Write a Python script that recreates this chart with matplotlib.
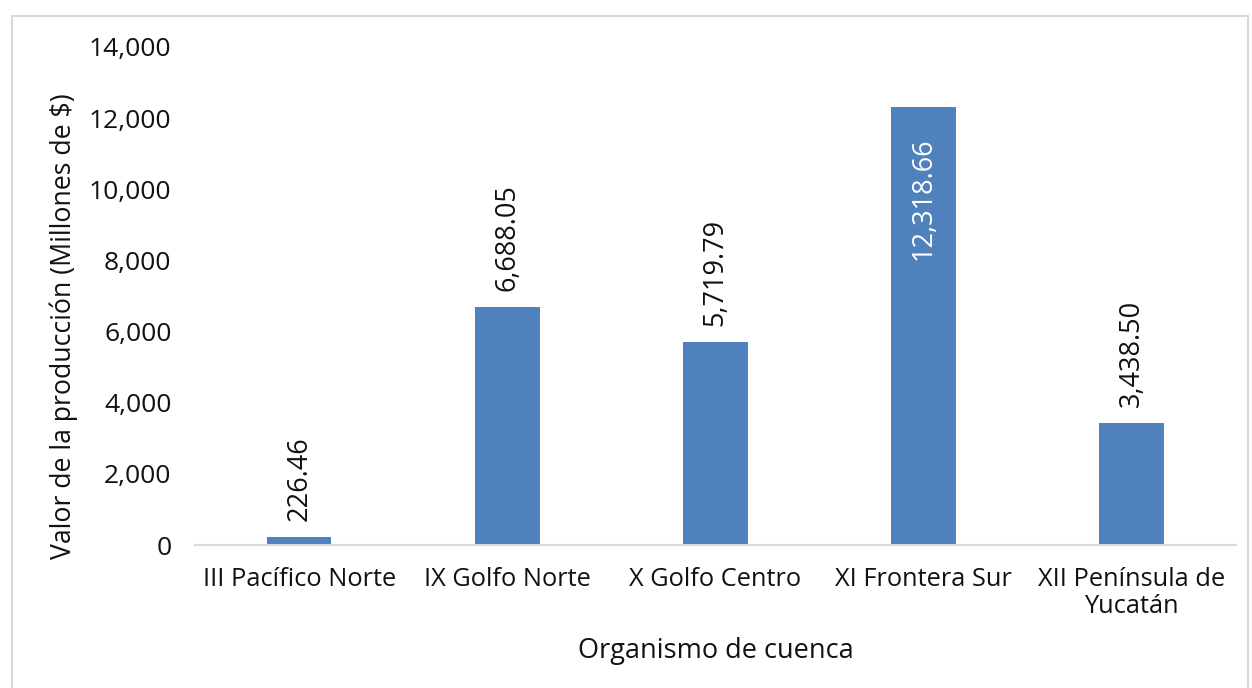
import matplotlib.pyplot as plt
from matplotlib.patches import Rectangle

categorias = ['III Pacífico Norte', 'IX Golfo Norte', 'X Golfo Centro',
              'XI Frontera Sur', 'XII Península de\nYucatán']
valores = [226.46, 6688.05, 5719.79, 12318.66, 3438.50]

plt.rcParams['font.family'] = ['Open Sans', 'DejaVu Sans']
color_texto = '#111111'

fig = plt.figure(figsize=(12.52, 6.88), dpi=100)
ax = fig.add_axes([0.1558, 0.2078, 0.8312, 0.7239])

# marco del gráfico
fig.patches.append(Rectangle((12 / 1252, -0.01), 1236 / 1252, 1 - 16 / 688 + 0.01,
                             transform=fig.transFigure, fill=False,
                             edgecolor='#d9d9d9', linewidth=1.5))

x = list(range(len(categorias)))
ax.bar(x, valores, width=0.31, color='#4f81bd')

for xi, v in zip(x, valores):
    txt = f'{v:,.2f}'
    if v > 10000:
        ax.annotate(txt, (xi, v), xytext=(0, -31), textcoords='offset pixels',
                    rotation=90, ha='center', va='top', color='white', fontsize=19.5)
    else:
        ax.annotate(txt, (xi, v), xytext=(0, 16), textcoords='offset pixels',
                    rotation=90, ha='center', va='bottom', color=color_texto, fontsize=19.5)

ax.set_xlim(-0.5, 4.5)
ax.set_ylim(0, 14000)
ax.set_yticks(range(0, 14001, 2000))
ax.yaxis.set_major_formatter(plt.FuncFormatter(lambda v, p: f'{int(v):,}'))
ax.set_xticks(x)
ax.set_xticklabels(categorias, fontsize=18.3, linespacing=1.15)
ax.tick_params(axis='y', labelsize=19, length=0, pad=17, labelcolor=color_texto)
ax.tick_params(axis='x', length=0, pad=15.5, labelcolor=color_texto)

for s in ['top', 'right', 'left']:
    ax.spines[s].set_visible(False)
ax.spines['bottom'].set_color('#d9d9d9')
ax.spines['bottom'].set_linewidth(1.5)

# título del eje y colocado a mano en la figura
fig.text(64 / 1252, 1 - 326 / 688, 'Valor de la producción (Millones de $)',
         rotation=90, ha='center', va='center', fontsize=19.2, color=color_texto)
ax.set_xlabel('Organismo de cuenca', fontsize=19.5, labelpad=12.5, color=color_texto)

fig.savefig('out.png', dpi=100)
